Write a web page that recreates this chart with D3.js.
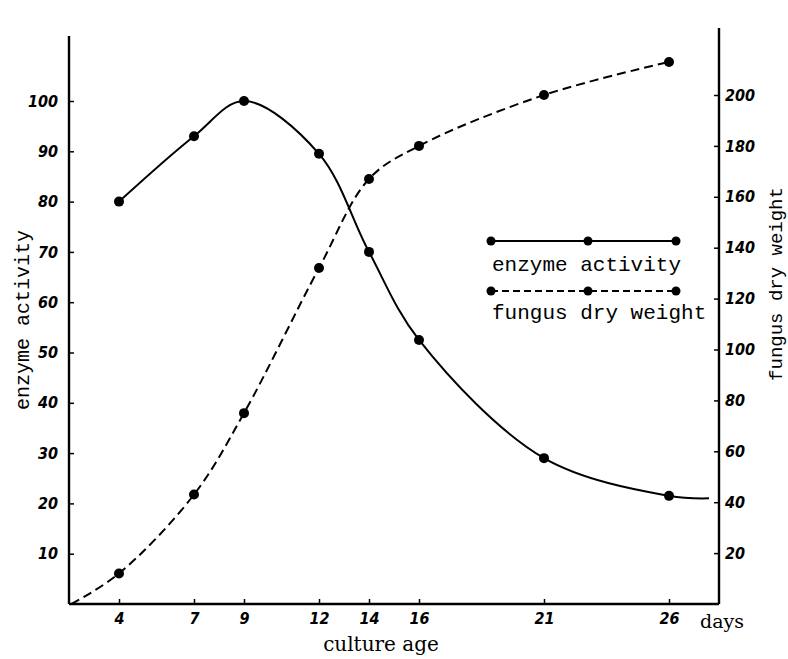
<!DOCTYPE html>
<html><head><meta charset="utf-8">
<script src="https://cdn.jsdelivr.net/npm/d3@7"></script>
<style>body{margin:0;background:#fff}</style>
</head><body>
<svg id="c" width="788" height="659"></svg>
<script>
const days = [4, 7, 9, 12, 14, 16, 21, 26];
const enzymeActivity = [80, 93, 100, 89.5, 70, 52.5, 29, 21.5];
const fungusDryWeight = [12, 43, 75, 132, 167, 180, 200, 213];
const enzymeLineEnd = {day: 27.6, value: 21};
const fungusLineStart = {day: 2.1, value: 0};
const leftTicks = [10, 20, 30, 40, 50, 60, 70, 80, 90, 100];
const rightTicks = [20, 40, 60, 80, 100, 120, 140, 160, 180, 200];
const xTicks = [4, 7, 9, 12, 14, 16, 21, 26];

const svg = d3.select("#c");
const x = d3.scaleLinear().domain([2, 28]).range([69, 719]);
const yL = d3.scaleLinear().domain([0, 100]).range([604, 101]);
const yR = d3.scaleLinear().domain([0, 200]).range([604, 95]);

const tickFont = "'Liberation Sans Narrow', 'DejaVu Sans Condensed', sans-serif";
const mono = "'Liberation Mono', 'DejaVu Sans Mono', monospace";
const serif = "'DejaVu Serif', 'Liberation Serif', serif";

// axes lines
svg.append("line").attr("x1", x(2)).attr("x2", x(2)).attr("y1", 36).attr("y2", 604).attr("stroke", "#000").attr("stroke-width", 2.4);
svg.append("line").attr("x1", x(28)).attr("x2", x(28)).attr("y1", 28).attr("y2", 604).attr("stroke", "#000").attr("stroke-width", 2.4);
svg.append("line").attr("x1", x(2)).attr("x2", x(28)).attr("y1", 604).attr("y2", 604).attr("stroke", "#000").attr("stroke-width", 2.4);

function styleAxis(g) {
  g.select(".domain").remove();
  g.selectAll("text").attr("font-family", tickFont).attr("font-style", "italic")
    .attr("font-weight", "bold").attr("font-size", 16).attr("fill", "#000");
  g.selectAll("line").attr("stroke-width", 1.5).attr("stroke", "#000");
}

// left axis
const gl = svg.append("g").attr("transform", `translate(${x(2)},0)`)
  .call(d3.axisLeft(yL).tickValues(leftTicks).tickSize(-5).tickPadding(11).tickFormat(d3.format("d")));
styleAxis(gl);

// right axis
const gr = svg.append("g").attr("transform", `translate(${x(28)},0)`)
  .call(d3.axisRight(yR).tickValues(rightTicks).tickSize(-5).tickPadding(6).tickFormat(d3.format("d")));
styleAxis(gr);

// bottom axis
const gb = svg.append("g").attr("transform", `translate(0,604)`)
  .call(d3.axisBottom(x).tickValues(xTicks).tickSize(-5).tickPadding(9).tickFormat(d3.format("d")));
styleAxis(gb);

// curves
const enzPts = days.map((d, i) => ({day: d, value: enzymeActivity[i]})).concat([enzymeLineEnd]);
const funPts = [fungusLineStart].concat(days.map((d, i) => ({day: d, value: fungusDryWeight[i]})));

svg.append("path").datum(enzPts)
  .attr("d", d3.line().x(d => x(d.day)).y(d => yL(d.value)).curve(d3.curveCatmullRom.alpha(0.5)))
  .attr("fill", "none").attr("stroke", "#000").attr("stroke-width", 2);
svg.append("path").datum(funPts)
  .attr("d", d3.line().x(d => x(d.day)).y(d => yR(d.value)).curve(d3.curveCatmullRom.alpha(0.5)))
  .attr("fill", "none").attr("stroke", "#000").attr("stroke-width", 2).attr("stroke-dasharray", "9,5");

svg.selectAll(".de").data(days).enter().append("circle")
  .attr("cx", d => x(d)).attr("cy", (d, i) => yL(enzymeActivity[i])).attr("r", 5).attr("fill", "#000");
svg.selectAll(".df").data(days).enter().append("circle")
  .attr("cx", d => x(d)).attr("cy", (d, i) => yR(fungusDryWeight[i])).attr("r", 5).attr("fill", "#000");

// legend
const legX = [491, 588, 676];
const legend = [
  {label: "enzyme activity", y: 241, ty: 271, dash: null},
  {label: "fungus dry weight", y: 291, ty: 319, dash: "7,4"}
];
legend.forEach(l => {
  svg.append("line").attr("x1", legX[0]).attr("x2", legX[2]).attr("y1", l.y).attr("y2", l.y)
    .attr("stroke", "#000").attr("stroke-width", 1.8).attr("stroke-dasharray", l.dash);
  legX.forEach(px => svg.append("circle").attr("cx", px).attr("cy", l.y).attr("r", 4.5).attr("fill", "#000"));
  svg.append("text").attr("x", 492).attr("y", l.ty).attr("font-family", mono).attr("font-size", 21)
    .attr("fill", "#000").text(l.label);
});

// axis titles
svg.append("text").attr("transform", "translate(29,320) rotate(-90)").attr("text-anchor", "middle")
  .attr("font-family", mono).attr("font-size", 20).text("enzyme activity");
svg.append("text").attr("transform", "translate(782,284) rotate(-90)").attr("text-anchor", "middle")
  .attr("font-family", mono).attr("font-size", 19).text("fungus dry weight");
svg.append("text").attr("x", 381).attr("y", 651).attr("text-anchor", "middle")
  .attr("font-family", serif).attr("font-size", 20).text("culture age");
svg.append("text").attr("x", 700).attr("y", 628)
  .attr("font-family", serif).attr("font-size", 19).text("days");
</script>
</body></html>
